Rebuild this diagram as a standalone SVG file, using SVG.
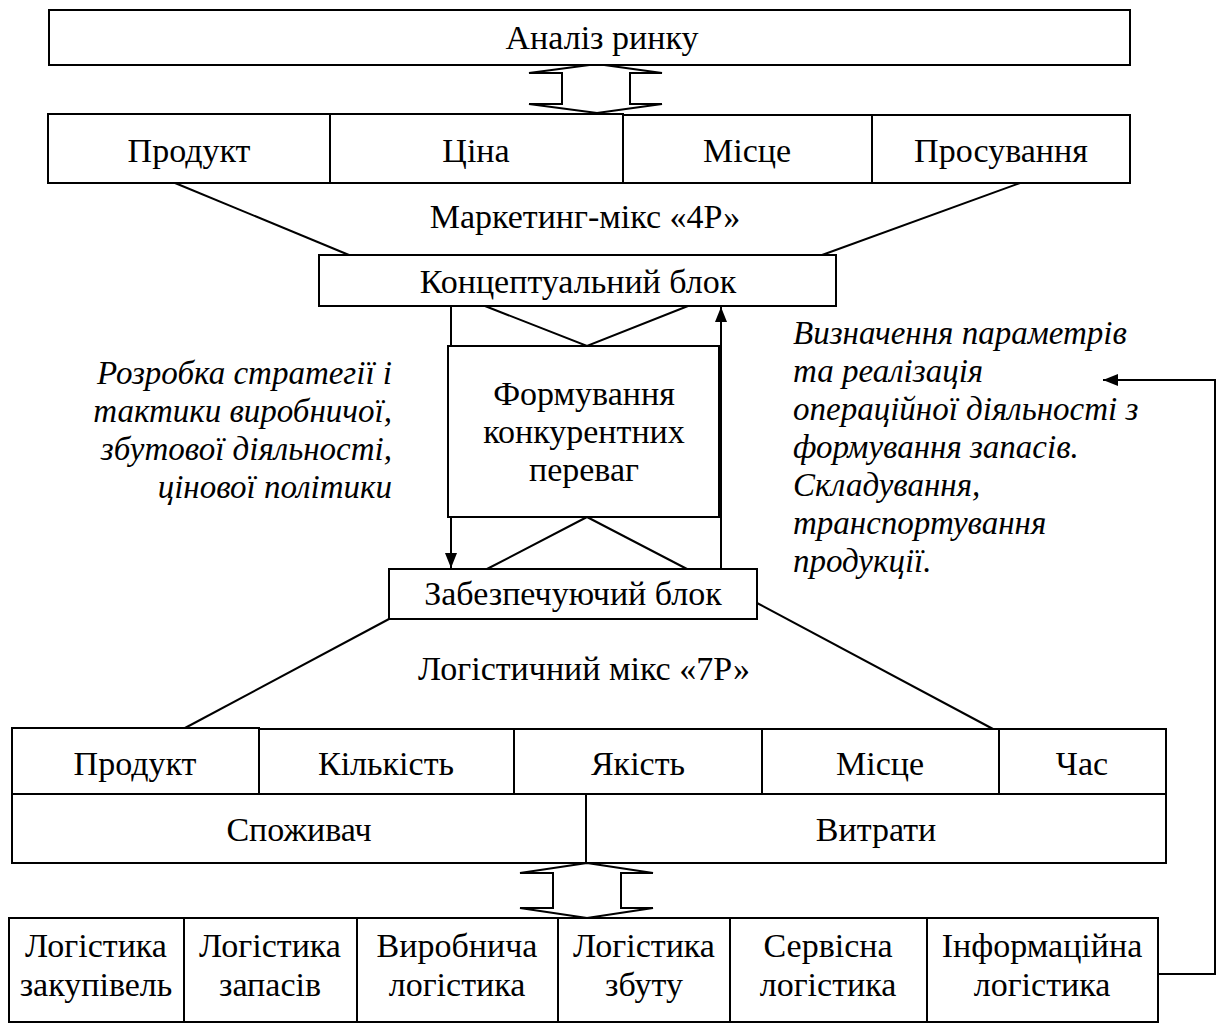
<svg xmlns="http://www.w3.org/2000/svg" width="1221" height="1026" viewBox="0 0 1221 1026" font-family="'Liberation Serif', 'Times New Roman', serif">
<style>
.b{fill:#fff;stroke:#000;stroke-width:2}
.l{fill:none;stroke:#000;stroke-width:2}
text{font-family:'Liberation Serif', 'Times New Roman', serif;font-size:34px;fill:#000}
.c{text-anchor:middle}
.i{font-style:italic;font-size:33px}
</style>
<defs>
<marker id="ah" markerWidth="16" markerHeight="12" refX="15" refY="6" orient="auto" markerUnits="userSpaceOnUse">
<path d="M0,0 L15,6 L0,12 Z" fill="#000"/>
</marker>
</defs>
<g id="connectors">
<line class="l" x1="175" y1="183" x2="349" y2="255"/>
<line class="l" x1="1020" y1="183" x2="822" y2="255"/>
<polyline class="l" points="485,306 587,346 688,306"/>
<polyline class="l" points="487,569 587,517 687,569"/>
<line class="l" x1="451" y1="306" x2="451" y2="568" marker-end="url(#ah)"/>
<line class="l" x1="721" y1="569" x2="721" y2="307" marker-end="url(#ah)"/>
<line class="l" x1="389" y1="619" x2="185" y2="728"/>
<line class="l" x1="757" y1="603" x2="993" y2="729"/>
<polyline class="l" points="1158,974 1215,974 1215,380 1103,380" marker-end="url(#ah)"/>
<path id="arrow-top" class="b" d="M597,64 L662,73 L630,73 L630,104 L662,104 L597,113 L529,104 L562,104 L562,73 L529,73 Z"/>
<path id="arrow-bottom" class="b" d="M587,863 L653,873 L621,873 L621,908 L653,908 L587,918 L520,908 L553,908 L553,873 L520,873 Z"/>
</g>
<g id="analiz"><rect class="b" x="49" y="10" width="1081" height="55"/><text class="c" x="602" y="49">Аналіз ринку</text></g>
<g id="p4-produkt"><rect class="b" x="48" y="114" width="282" height="69"/><text class="c" x="189" y="162">Продукт</text></g>
<g id="p4-tsina"><rect class="b" x="330" y="114" width="293" height="69"/><text class="c" x="476" y="162">Ціна</text></g>
<g id="p4-mistse"><rect class="b" x="623" y="115" width="249" height="68"/><text class="c" x="747" y="162">Місце</text></g>
<g id="p4-prosuvannia"><rect class="b" x="872" y="115" width="258" height="68"/><text class="c" x="1001" y="162">Просування</text></g>
<g id="label-4p"><text class="c" x="585" y="228">Маркетинг-мікс «4Р»</text></g>
<g id="kontseptualnyi"><rect class="b" x="319" y="255" width="517" height="51"/><text class="c" x="578" y="293">Концептуальний блок</text></g>
<g id="formuvannia"><rect class="b" x="448" y="346" width="271" height="171"/>
<text class="c" x="584" y="405">Формування</text><text class="c" x="584" y="443">конкурентних</text><text class="c" x="584" y="481">переваг</text></g>
<g id="zabezpechuiuchyi"><rect class="b" x="389" y="569" width="368" height="50"/><text class="c" x="573" y="605">Забезпечуючий блок</text></g>
<g id="label-left"><text class="i" text-anchor="end">
<tspan x="392" y="384">Розробка стратегії і</tspan><tspan x="392" y="422">тактики виробничої,</tspan><tspan x="392" y="460">збутової діяльності,</tspan><tspan x="392" y="498">цінової політики</tspan></text></g>
<g id="label-right"><text class="i">
<tspan x="793" y="344">Визначення параметрів</tspan><tspan x="793" y="382">та реалізація</tspan><tspan x="793" y="420">операційної діяльності з</tspan><tspan x="793" y="458">формування запасів.</tspan><tspan x="793" y="496">Складування,</tspan><tspan x="793" y="534">транспортування</tspan><tspan x="793" y="572">продукції.</tspan></text></g>
<g id="label-7p"><text class="c" x="584" y="680">Логістичний мікс «7Р»</text></g>
<g id="p7-produkt"><rect class="b" x="12" y="728" width="247" height="66"/><text class="c" x="135" y="775">Продукт</text></g>
<g id="p7-kilkist"><rect class="b" x="259" y="729" width="255" height="65"/><text class="c" x="386" y="775">Кількість</text></g>
<g id="p7-yakist"><rect class="b" x="514" y="729" width="248" height="65"/><text class="c" x="638" y="775">Якість</text></g>
<g id="p7-mistse"><rect class="b" x="762" y="729" width="237" height="65"/><text class="c" x="880" y="775">Місце</text></g>
<g id="p7-chas"><rect class="b" x="999" y="729" width="167" height="65"/><text class="c" x="1082" y="775">Час</text></g>
<g id="p7-spozhyvach"><rect class="b" x="12" y="794" width="574" height="69"/><text class="c" x="299" y="841">Споживач</text></g>
<g id="p7-vytraty"><rect class="b" x="586" y="794" width="580" height="69"/><text class="c" x="876" y="841">Витрати</text></g>
<g id="l-zakupivel"><rect class="b" x="9" y="918" width="175" height="104"/><text class="c" x="96" y="957">Логістика</text><text class="c" x="96" y="996">закупівель</text></g>
<g id="l-zapasiv"><rect class="b" x="184" y="918" width="173" height="104"/><text class="c" x="270" y="957">Логістика</text><text class="c" x="270" y="996">запасів</text></g>
<g id="l-vyrobnycha"><rect class="b" x="357" y="918" width="201" height="104"/><text class="c" x="457" y="957">Виробнича</text><text class="c" x="457" y="996">логістика</text></g>
<g id="l-zbutu"><rect class="b" x="558" y="918" width="172" height="104"/><text class="c" x="644" y="957">Логістика</text><text class="c" x="644" y="996">збуту</text></g>
<g id="l-servisna"><rect class="b" x="730" y="918" width="197" height="104"/><text class="c" x="828" y="957">Сервісна</text><text class="c" x="828" y="996">логістика</text></g>
<g id="l-informatsiina"><rect class="b" x="927" y="918" width="231" height="104"/><text class="c" x="1042" y="957">Інформаційна</text><text class="c" x="1042" y="996">логістика</text></g>
</svg>
